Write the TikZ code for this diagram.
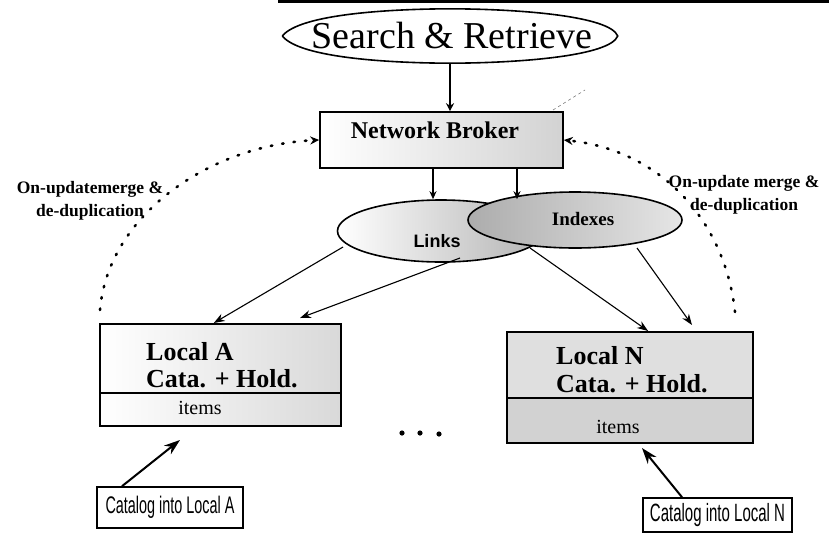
\documentclass[tikz,border=0pt]{standalone}
\usepackage{fontspec}
\setmainfont{Liberation Serif}
\setsansfont{Liberation Sans}
\newfontfamily\narrowsans{Liberation Sans}[FakeStretch=0.6]
\usetikzlibrary{shapes.geometric,arrows.meta,calc}
\begin{document}
\begin{tikzpicture}[x=1pt,y=-1pt,
  box/.style={draw, line width=1.6pt, inner sep=0pt},
  arr/.style={-{Stealth[length=11pt,width=8pt]}, line width=1.1pt},
  bigarr/.style={-{Stealth[length=16pt,width=11pt]}, line width=2pt},
  downarr/.style={-{Stealth[length=8pt,width=7pt]}, line width=1.2pt},
  dotarc/.style={line width=2.6pt, line cap=round, dash pattern=on 1.5pt off 10pt, -{Stealth[length=9pt,width=8pt]}},
  lbl/.style={font=\bfseries\fontsize{17.5}{23}\selectfont, align=center},
  loctext/.style={font=\bfseries\fontsize{26}{26}\selectfont, anchor=west, inner sep=1pt},
  itemtext/.style={font=\fontsize{20}{20}\selectfont},
  cattext/.style={font=\narrowsans\fontsize{24}{24}\selectfont},
]
\useasboundingbox (0,0) rectangle (829,552);
\fill[white] (0,0) rectangle (829,552);
% top border line
\draw[line width=3pt] (278,1.5) -- (829,1.5);

% Search & Retrieve
\node[ellipse, minimum width=335pt, minimum height=54pt, inner sep=0pt] (sr) at (450,36) {};
\draw[line width=1.6pt] (sr.west) .. controls (300,14) and (390,9) .. (sr.north)
  .. controls (520,9) and (610,16) .. (sr.east)
  .. controls (610,56) and (520,63) .. (sr.south)
  .. controls (390,63) and (300,58) .. (sr.west);
\node[font=\fontsize{38}{38}\selectfont] (srt) at (452,35) {Search \& Retrieve};

% Network Broker
\node[box, minimum width=243pt, minimum height=56pt, left color=white, right color=gray!35] (nb) at (441.5,140) {};
\node[font=\bfseries\fontsize{24}{24}\selectfont] (nbt) at (435,130) {Network Broker};
\draw[gray, line width=0.6pt, dashed] (553,110) -- (585,90);

% Links and Indexes
\node[ellipse, draw, line width=1.6pt, minimum width=207pt, minimum height=62pt, left color=white, right color=gray!60] (lk) at (441,231) {};
\node[ellipse, draw, line width=1.6pt, minimum width=214pt, minimum height=56pt, left color=gray!65, right color=gray!20] (ix) at (575,220) {};
\node[font=\sffamily\bfseries\fontsize{18}{18}\selectfont] (lkt) at (437,241) {Links};
\node[font=\bfseries\fontsize{19}{19}\selectfont] (ixt) at (583,219) {Indexes};

% Local A
\node[box, minimum width=241pt, minimum height=69pt, anchor=north west, left color=white, right color=gray!30] (la) at (99,323) {};
\node[box, minimum width=241pt, minimum height=33pt, anchor=north west, left color=white, right color=gray!30] (lai) at (99,392) {};
\node[loctext] (lat1) at (145,352) {Local A};
\node[loctext] (lat2) at (145,379) {Cata. + Hold.};
\node[itemtext] (lat3) at (200,408) {items};

% Local N
\node[box, minimum width=246pt, minimum height=66pt, anchor=north west, fill=gray!25, line width=2.2pt] (ln) at (506,331) {};
\node[box, minimum width=246pt, minimum height=45pt, anchor=north west, fill=gray!35, line width=2.2pt] (lni) at (506,397) {};
\node[loctext] (lnt1) at (555,356) {Local N};
\node[loctext] (lnt2) at (555,384) {Cata. + Hold.};
\node[itemtext] (lnt3) at (618,427) {items};

% dots
\fill (402,433) circle (2.6pt);
\fill (420,433) circle (2.6pt);
\fill (439,434) circle (2.6pt);

% Catalog boxes
\node[box, fill=white, minimum width=146pt, minimum height=41pt, cattext] (ca) at (170,507.5) {Catalog into Local A};
\node[box, fill=white, minimum width=149pt, minimum height=34pt, cattext, font=\narrowsans\fontsize{25}{25}\selectfont] (cn) at (717.5,515) {Catalog into Local N};

% arrows
\draw[line width=2pt, -{Stealth[length=8pt,width=8pt]}] (sr.south) -- (nb.north -| sr.south);
\draw[downarr] ([xshift=-8.5pt]nb.south) -- ([xshift=-8.5pt]nb.south |- lk.north);
\draw[downarr] ([xshift=75.5pt]nb.south) -- ([xshift=-58pt,yshift=-8pt]ix.north);

\coordinate (l1) at (343,247);
\coordinate (l2) at (460,258);
\coordinate (l2e) at (300,318);
\coordinate (l3) at (530,248);
\coordinate (l4) at (637,248);
\coordinate (l4e) at (692,325);
\draw[arr] (l1) -- ([xshift=-6.5pt]la.north);
\draw[arr] (l2) -- (l2e);
\draw[arr] (l3) -- ([xshift=18pt]ln.north);
\draw[arr] (l4) -- (l4e);

\coordinate (cae) at (180,440);
\coordinate (cne) at (642,448);
\draw[bigarr] ([xshift=-48pt]ca.north) -- (cae);
\draw[bigarr] ([xshift=-35.5pt]cn.north) -- (cne);

% dotted merge arcs
\coordinate (dl) at (100,310);
\coordinate (dr) at (735,312);
\draw[dotarc] (dl) .. controls (108,215) and (210,145) .. (nb.west);
\draw[dotarc] (dr) .. controls (725,220) and (660,150) .. (nb.east);

\node[lbl] (mlA) at (90,201) {On-updatemerge \&\\de-duplication};
\node[lbl] (mlN) at (744,195) {On-update merge \&\\de-duplication};
\end{tikzpicture}
\end{document}
